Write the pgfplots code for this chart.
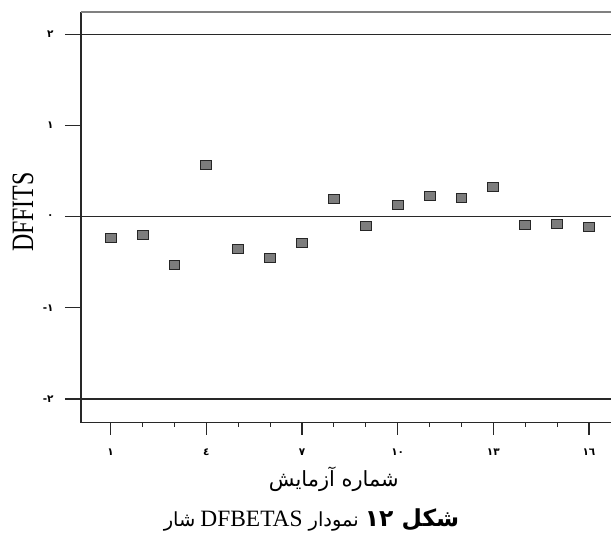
\documentclass[border=0pt]{standalone}
\usepackage{fontspec}
\usepackage{pgfplots}
\pgfplotsset{compat=1.18}
\setmainfont{Liberation Serif}
\newfontfamily\arabicfont[Script=Arabic]{DejaVu Sans}
\newfontfamily\dejavu{DejaVu Sans}
\TeXXeTstate=1
\definecolor{mk}{RGB}{125,125,125}
\definecolor{ln}{RGB}{40,40,40}
\newcommand{\mn}{{\dejavu\bfseries -}}
\begin{document}
\begin{tikzpicture}
\useasboundingbox (-81bp,-116.3bp) rectangle (530bp,422.7bp);
\begin{axis}[
  at={(0,0)}, anchor=south west,
  scale only axis, width=530bp, height=410.7bp,
  xmin=0.069, xmax=16.69, ymin=-2.26, ymax=2.245,
  axis x line*=bottom, axis y line*=left,
  axis line style={line width=1.3bp, color=ln, -},
  xtick={1,4,7,10,13,16},
  xticklabels={١,٤,٧,١٠,١٣,١٦},
  minor xtick={2,3,5,6,8,9,11,12,14,15},
  ytick={-2,-1,0,1,2},
  yticklabels={\mn٢,\mn١,٠,١,٢},
  tick align=outside,
  major tick length=12bp, minor tick length=4bp,
  xtick style={line width=1.1bp, color=ln},
  minor tick style={line width=1.1bp, color=ln},
  ytick style={draw=none},
  ticklabel style={font=\arabicfont\bfseries\fontsize{10.5}{12}\selectfont},
  xticklabel style={yshift=-11bp},
  yticklabel style={xshift=-12bp},
  xlabel={\arabicfont\fontsize{21}{23}\selectfont\beginR شماره آزمایش\endR},
  x label style={at={([yshift=-57bp]axis description cs:0.477,0)}, anchor=center},
  ylabel={\scalebox{1}[1.3]{\fontsize{24}{26}\selectfont DFFITS}},
  y label style={at={([xshift=-58bp]axis description cs:0,0.513)}, anchor=center},
  clip=false,
]
\draw[ln, line width=1.4bp] ([xshift=-16bp]axis cs:0.069,2) -- (axis cs:16.69,2);
\draw[ln, line width=1.4bp] ([xshift=-16bp]axis cs:0.069,0) -- (axis cs:16.69,0);
\draw[ln, line width=1.4bp] ([xshift=-16bp]axis cs:0.069,-2) -- (axis cs:16.69,-2);
\draw[ln, line width=1.3bp] ([xshift=-16bp]axis cs:0.069,1) -- (axis cs:0.069,1);
\draw[ln, line width=1.3bp] ([xshift=-16bp]axis cs:0.069,-1) -- (axis cs:0.069,-1);
\draw[black!50, line width=1.1bp] (rel axis cs:0,1) -- (rel axis cs:1,1);
\addplot[only marks, mark=square*, mark size=4.5bp,
  mark options={xscale=1.2, fill=mk, draw=black!85, line width=0.9bp}]
  coordinates {
  (1,-0.234) (2,-0.205) (3,-0.534) (4,0.570) (5,-0.359) (6,-0.453)
  (7,-0.285) (8,0.197) (9,-0.099) (10,0.128) (11,0.230) (12,0.201)
  (13,0.326) (14,-0.091) (15,-0.080) (16,-0.117)
  };
\end{axis}
\node[anchor=center, inner sep=0pt] at (230.5bp,-97bp) {%
{\arabicfont\fontsize{19.5}{21}\selectfont\beginR شار\endR}\hspace{5bp}%
{\fontsize{23.5}{26}\selectfont DFBETAS}\hspace{6bp}%
{\arabicfont\fontsize{19.5}{21}\selectfont\beginR{\fontsize{23.5}{25}\selectfont\bfseries شکل ١٢} نمودار\endR}};
\end{tikzpicture}
\end{document}
